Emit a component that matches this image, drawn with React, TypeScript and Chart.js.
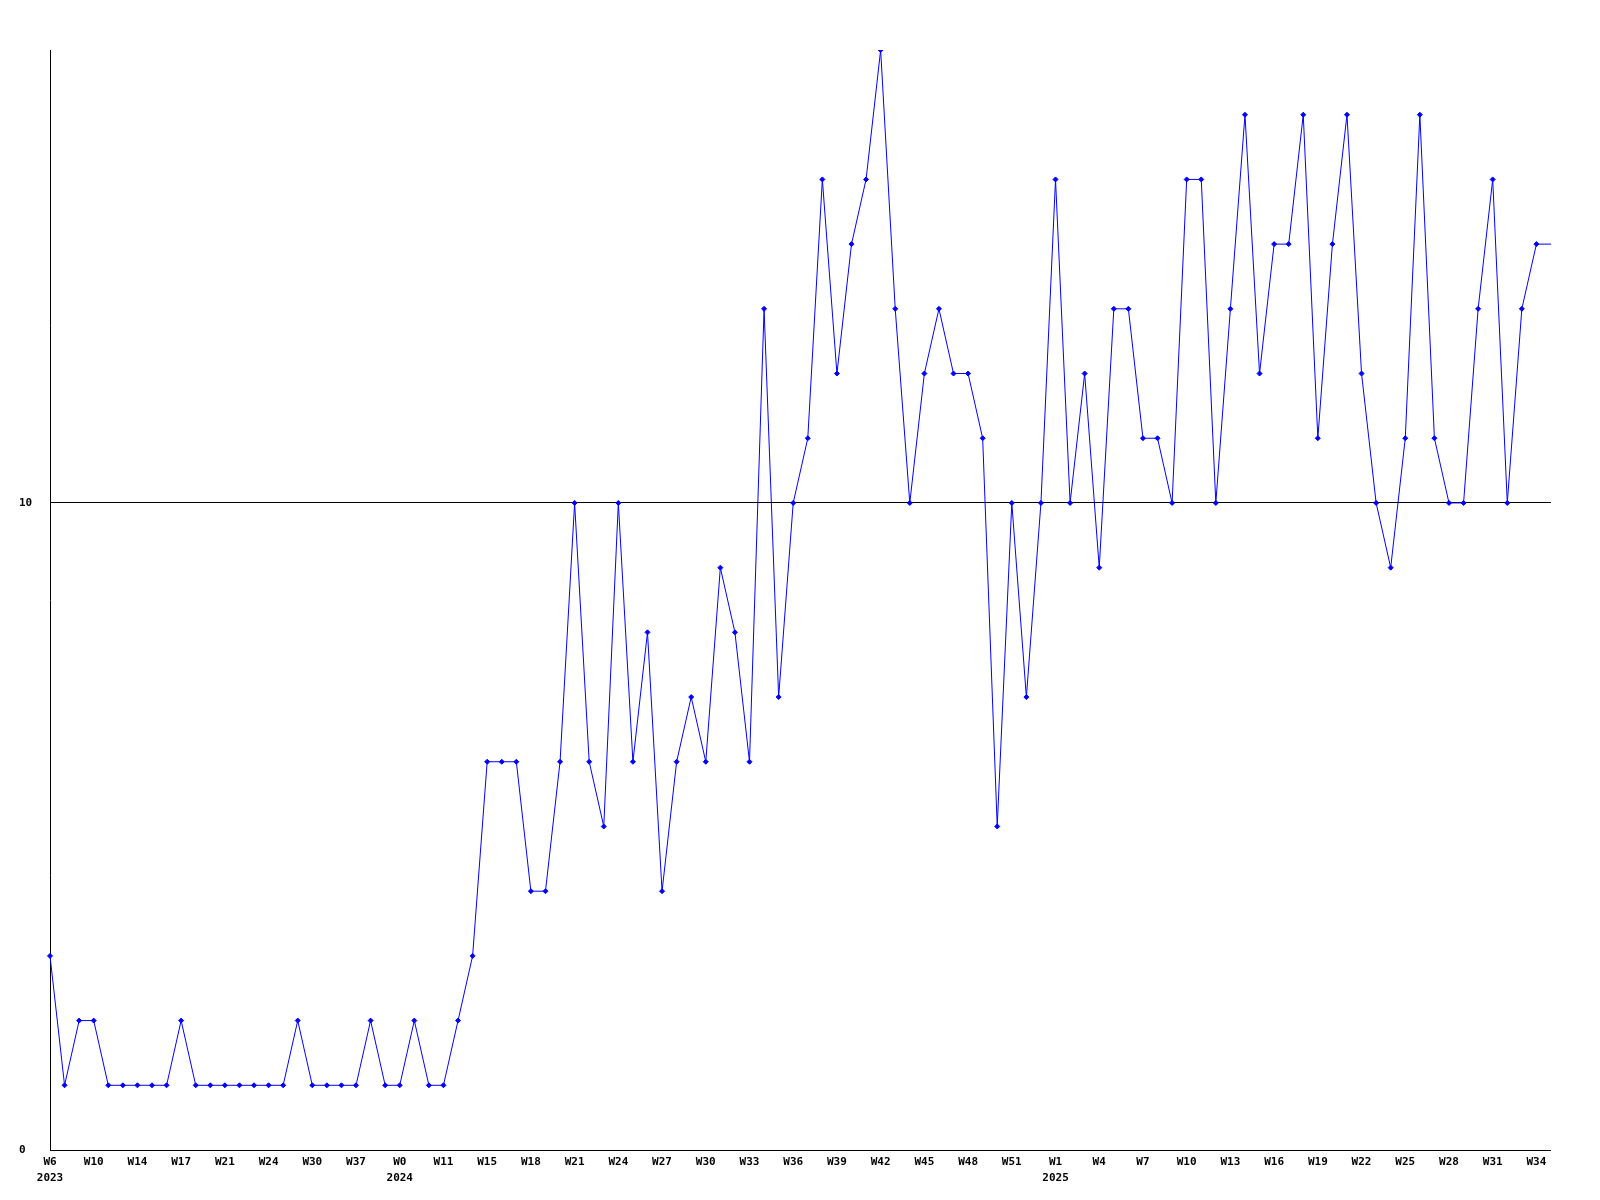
import React, { useEffect, useRef } from 'react';
import { Chart, registerables } from 'chart.js';

Chart.register(...registerables);

const categories: string[] = [
  '2023-W6', '2023-W7', '2023-W8', '2023-W10', '2023-W11', '2023-W12', '2023-W14', '2023-W15',
  '2023-W16', '2023-W17', '2023-W18', '2023-W19', '2023-W21', '2023-W22', '2023-W23', '2023-W24',
  '2023-W26', '2023-W28', '2023-W30', '2023-W32', '2023-W35', '2023-W37', '2023-W41', '2023-W47',
  '2024-W0', '2024-W4', '2024-W8', '2024-W11', '2024-W13', '2024-W14', '2024-W15', '2024-W16',
  '2024-W17', '2024-W18', '2024-W19', '2024-W20', '2024-W21', '2024-W22', '2024-W23', '2024-W24',
  '2024-W25', '2024-W26', '2024-W27', '2024-W28', '2024-W29', '2024-W30', '2024-W31', '2024-W32',
  '2024-W33', '2024-W34', '2024-W35', '2024-W36', '2024-W37', '2024-W38', '2024-W39', '2024-W40',
  '2024-W41', '2024-W42', '2024-W43', '2024-W44', '2024-W45', '2024-W46', '2024-W47', '2024-W48',
  '2024-W49', '2024-W50', '2024-W51', '2024-W52', '2025-W0', '2025-W1', '2025-W2', '2025-W3',
  '2025-W4', '2025-W5', '2025-W6', '2025-W7', '2025-W8', '2025-W9', '2025-W10', '2025-W11',
  '2025-W12', '2025-W13', '2025-W14', '2025-W15', '2025-W16', '2025-W17', '2025-W18', '2025-W19',
  '2025-W20', '2025-W21', '2025-W22', '2025-W23', '2025-W24', '2025-W25', '2025-W26', '2025-W27',
  '2025-W28', '2025-W29', '2025-W30', '2025-W31', '2025-W32', '2025-W33', '2025-W34', '2025-W35',
];

const counts: number[] = [
  3, 1, 2, 2, 1, 1, 1, 1, 1, 2, 1, 1, 1, 1, 1, 1,
  1, 2, 1, 1, 1, 1, 2, 1, 1, 2, 1, 1, 2, 3, 6, 6,
  6, 4, 4, 6, 10, 6, 5, 10, 6, 8, 4, 6, 7, 6, 9, 8,
  6, 13, 7, 10, 11, 15, 12, 14, 15, 17, 13, 10, 12, 13, 12, 12,
  11, 5, 10, 7, 10, 15, 10, 12, 9, 13, 13, 11, 11, 10, 15, 15,
  10, 13, 16, 12, 14, 14, 16, 11, 14, 16, 12, 10, 9, 11, 16, 11,
  10, 10, 13, 15, 10, 13, 14, 14,
];

const yTickValues: number[] = [0, 10];
const yMin = 0;
const yMax = 17;
const labelEvery = 3;

const FONT = { family: '"DejaVu Sans Mono", monospace', size: 11, weight: 'bold' as const, lineHeight: '16px' };

export default function App() {
  const canvasRef = useRef<HTMLCanvasElement | null>(null);

  useEffect(() => {
    const canvas = canvasRef.current;
    if (!canvas) return;
    const chart = new Chart(canvas, {
      type: 'line',
      data: {
        labels: categories,
        datasets: [
          {
            data: counts,
            borderColor: '#0000ff',
            backgroundColor: '#0000ff',
            borderWidth: 1,
            tension: 0,
            fill: false,
            pointStyle: 'rectRot',
            pointRadius: (ctx: any) => (ctx.dataIndex === counts.length - 1 ? 0 : 2.5),
            pointBorderWidth: 1,
            pointBorderColor: '#0000ff',
            pointBackgroundColor: '#0000ff',
          },
        ],
      },
      options: {
        animation: false,
        responsive: false,
        devicePixelRatio: 1,
        events: [],
        layout: { autoPadding: false, padding: { left: 19, top: 50, right: 0, bottom: 0 } },
        plugins: { legend: { display: false }, tooltip: { enabled: false }, title: { display: false } },
        scales: {
          x: {
            type: 'category',
            offset: false,
            grid: { display: false, drawTicks: false },
            border: { display: true, color: '#000000', width: 1 },
            afterFit: (s: any) => { s.height = 50; s.paddingRight = 0; s.paddingLeft = 0; },
            ticks: {
              autoSkip: false,
              maxRotation: 0,
              minRotation: 0,
              padding: 4,
              color: '#000000',
              font: FONT,
              callback: (_v: any, index: number) => {
                if (index % labelEvery !== 0) return '';
                const [year, week] = categories[index].split('-');
                const prev = index >= labelEvery ? categories[index - labelEvery].split('-')[0] : '';
                return year !== prev ? [week, year] : week;
              },
            },
          },
          y: {
            min: yMin,
            max: yMax,
            afterBuildTicks: (s: any) => { s.ticks = yTickValues.map((v) => ({ value: v })); },
            afterFit: (s: any) => { s.width = 31; s.paddingTop = 0; s.paddingBottom = 0; },
            grid: { display: true, drawTicks: false, color: '#000000', lineWidth: 1 },
            border: { display: true, color: '#000000', width: 1 },
            ticks: {
              crossAlign: 'far',
              padding: 0,
              color: '#000000',
              font: FONT,
              callback: (v: any) => String(v),
            },
          },
        },
      },
    });
    return () => chart.destroy();
  }, []);

  return (
    <div style={{ position: 'absolute', left: 0, top: 0, width: 1600, height: 1200, background: '#ffffff' }}>
      <canvas ref={canvasRef} width={1551} height={1200} style={{ display: 'block' }} />
    </div>
  );
}
